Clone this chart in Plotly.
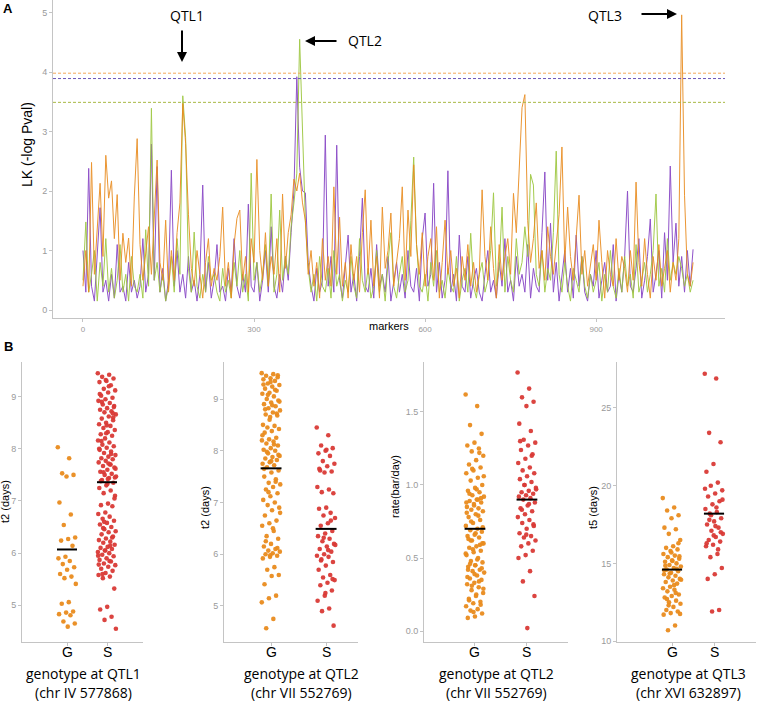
import plotly.graph_objects as go

W, H = 757, 705

# ---- panel A: LK scores along the markers (read every 5th marker) ----
LK_PURPLE = [
    1.0, 0.3, 2.38, 0.4, 0.15, 0.9, 1.72, 0.3, 0.5, 0.15,
    0.6, 0.2, 1.1, 0.3, 0.4, 0.15, 0.8, 0.3, 0.5, 0.2,
    0.4, 1.2, 0.3, 0.6, 2.79, 0.5, 2.41, 0.3, 0.7, 0.15,
    0.5, 2.35, 0.4, 1.0, 0.3, 0.6, 0.2, 0.9, 0.3, 0.5,
    0.15, 0.6, 2.1, 0.3, 0.8, 0.2, 0.5, 1.1, 0.3, 0.4,
    0.15, 0.7, 0.3, 1.2, 0.4, 0.2, 0.6, 0.3, 1.78, 0.4,
    0.3, 0.8, 0.15, 0.5, 1.0, 0.3, 1.4, 0.4, 0.2, 0.6,
    0.3, 0.9, 0.5, 1.3, 2.0, 3.92, 2.4, 2.0, 1.97, 0.8,
    0.4, 0.15, 0.7, 0.3, 0.5, 2.94, 0.4, 0.9, 0.3, 2.77,
    0.5, 0.2, 0.8, 1.26, 0.3, 0.6, 0.15, 0.9, 1.88, 0.4,
    0.3, 0.7, 0.2, 1.1, 0.4, 0.6, 0.3, 0.9, 0.15, 0.5,
    0.8, 0.3, 0.6, 0.2, 1.0, 0.4, 0.3, 0.7, 0.15, 1.2,
    1.63, 0.4, 0.6, 2.13, 0.3, 0.8, 0.2, 0.5, 2.34, 0.3,
    0.6, 0.15, 1.26, 0.4, 0.3, 0.9, 0.2, 0.5, 0.7, 0.3,
    0.15, 0.6, 1.0, 0.3, 0.5, 0.2, 0.8, 0.4, 1.2, 0.3,
    0.5, 0.15, 0.9, 0.4, 0.6, 0.3, 1.1, 0.2, 0.7, 0.4,
    0.3, 1.3, 2.32, 0.5, 1.46, 0.3, 0.8, 0.15, 0.6, 1.0,
    0.3, 0.7, 0.2, 1.26, 0.4, 0.9, 0.3, 0.15, 0.6, 0.4,
    1.0, 0.2, 0.5, 0.8, 0.3, 0.4, 1.1, 0.15, 0.6, 0.3,
    0.9, 2.0, 0.4, 0.3, 0.7, 1.2, 0.2, 0.5, 0.9, 1.53,
    0.3, 0.6, 1.0, 0.2, 1.3, 0.5, 2.42, 0.8, 1.46, 0.4,
    0.9, 0.3, 1.0, 0.4, 1.02,
]
LK_GREEN = [
    0.5, 1.48, 0.3, 0.6, 1.0, 0.15, 0.8, 0.4, 1.2, 0.3,
    0.7, 0.2, 0.5, 1.1, 0.3, 0.6, 0.15, 0.9, 0.4, 0.3,
    0.6, 0.2, 1.35, 0.4, 3.39, 0.5, 0.8, 0.3, 0.6, 0.15,
    0.4, 0.9, 0.3, 1.2, 0.6, 3.6, 2.9, 0.7, 0.3, 1.31,
    0.4, 0.2, 0.6, 0.3, 0.9, 0.5, 0.6, 0.3, 0.15, 0.7,
    0.3, 0.5, 0.2, 0.8, 0.4, 1.0, 0.3, 0.6, 0.15, 2.3,
    0.5, 0.8, 0.3, 0.6, 1.1, 0.4, 1.95, 0.3, 0.6, 1.68,
    0.5, 0.9, 0.6, 1.4, 1.8, 2.3, 4.55, 2.97, 1.5, 0.7,
    0.3, 0.6, 0.15, 0.9, 0.4, 0.3, 0.7, 0.2, 1.0, 0.4,
    0.6, 0.15, 0.5, 0.3, 0.9, 0.4, 0.2, 1.2, 0.5, 0.3,
    0.7, 0.2, 0.4, 1.0, 0.3, 0.6, 0.15, 0.8, 1.3, 0.4,
    0.2, 0.6, 0.9, 0.3, 0.5, 1.5, 2.57, 1.1, 0.4, 0.3,
    0.6, 0.15, 0.8, 0.4, 1.0, 0.3, 0.5, 0.2, 0.7, 0.4,
    0.3, 0.9, 0.15, 0.5, 0.7, 0.3, 1.29, 0.4, 0.2, 0.6,
    0.8, 0.3, 0.5, 1.0, 1.97, 0.4, 0.7, 1.73, 0.3, 0.9,
    0.5, 0.3, 1.2, 0.6, 0.8, 1.4, 0.9, 2.28, 2.1, 0.6,
    0.4, 1.0, 0.3, 0.7, 0.5, 1.3, 2.67, 0.6, 0.3, 0.8,
    0.4, 0.15, 0.7, 0.5, 0.3, 0.9, 0.4, 0.2, 0.6, 0.3,
    0.5, 0.8, 0.15, 0.6, 0.3, 1.0, 0.4, 0.2, 0.7, 0.3,
    0.9, 0.4, 0.6, 0.2, 1.1, 0.3, 0.5, 0.8, 0.3, 0.6,
    1.0, 1.95, 0.4, 0.7, 0.3, 1.2, 0.5, 0.8, 0.6, 0.9,
    0.7, 0.4, 0.6, 0.3, 0.5,
]
LK_ORANGE = [
    0.4, 1.0, 0.3, 2.48, 0.6, 1.3, 2.13, 0.9, 2.6, 1.88,
    2.17, 1.2, 1.94, 0.5, 1.29, 0.8, 1.21, 0.4, 1.9, 2.88,
    1.1, 0.5, 0.9, 1.4, 0.6, 1.7, 2.52, 0.8, 0.5, 1.51,
    0.3, 1.0, 0.5, 1.3, 1.8, 3.47, 2.8, 1.6, 0.7, 0.4,
    1.0, 0.6, 0.2, 0.8, 1.2, 0.4, 0.7, 0.5, 0.9, 1.73,
    0.4, 0.8, 0.2, 1.1, 1.54, 1.68, 0.5, 0.9, 0.3, 1.2,
    0.8, 2.53, 1.0, 0.5, 1.3, 0.4, 0.9, 0.6, 1.2, 0.3,
    1.95, 0.7, 1.3, 1.6, 2.2, 2.0, 2.3, 1.8, 1.5, 0.6,
    1.0, 0.4, 0.8, 0.2, 1.2, 0.5, 0.9, 0.4, 2.07, 0.6,
    1.56, 0.4, 0.8, 0.2, 1.1, 0.5, 0.9, 0.3, 1.3, 2.02,
    0.6, 1.51, 0.4, 0.9, 0.2, 1.73, 0.7, 1.0, 1.63, 0.4,
    0.8, 1.2, 2.07, 0.5, 1.68, 0.9, 2.44, 1.1, 0.6, 1.3,
    0.4, 0.9, 1.2, 0.5, 1.4, 0.2, 0.8, 1.51, 0.6, 1.0,
    0.4, 0.7, 0.2, 0.9, 0.5, 1.1, 0.4, 0.8, 0.3, 0.6,
    2.02, 0.9, 0.5, 1.4, 0.7, 0.2, 1.1, 0.5, 0.9, 1.2,
    0.6, 1.96, 1.3, 2.49, 3.4, 3.62, 1.5, 0.8, 1.2, 1.8,
    0.7, 1.0, 0.5, 1.4, 0.9, 0.6, 1.1, 1.6, 2.74, 0.8,
    1.73, 0.9, 0.5, 1.2, 1.93, 0.6, 1.0, 0.4, 0.8, 1.1,
    0.5, 1.51, 0.8, 0.2, 1.0, 0.6, 0.4, 1.2, 0.5, 0.9,
    0.7, 0.3, 1.0, 0.5, 2.15, 0.8, 0.4, 1.2, 0.6, 0.2,
    0.9, 0.5, 1.1, 0.4, 0.7, 1.0, 0.3, 0.8, 0.5, 1.2,
    4.96, 1.93, 0.6, 0.4, 0.8,
]
MARKER_STEP = 5
THRESHOLDS = [3.98, 3.89, 3.49]   # orange, purple, green

# ---- panel B: phenotypes by genotype ----
P1_G = [8.03, 7.82, 7.53, 7.5, 7.47, 6.97, 6.74, 6.54, 6.3, 6.27, 6.24, 6.14, 5.93, 5.9, 5.85, 5.79,
        5.73, 5.68, 5.6, 5.55, 5.52, 5.41, 5.06, 5.03, 4.88, 4.86, 4.83, 4.81, 4.69, 4.65, 4.59]
P1_S = [9.45, 9.42, 9.38, 9.35, 9.3, 9.28, 9.22, 9.15, 9.12, 9.08, 9.02, 8.98, 8.95, 8.92, 8.88, 8.85,
        8.82, 8.78, 8.75, 8.72, 8.7, 8.66, 8.62, 8.58, 8.55, 8.5, 8.47, 8.44, 8.4, 8.36, 8.32, 8.28,
        8.25, 8.2, 8.16, 8.12, 8.08, 8.05, 8.02, 7.98, 7.95, 7.92, 7.88, 7.85, 7.82, 7.8, 7.77, 7.74,
        7.7, 7.67, 7.64, 7.6, 7.56, 7.52, 7.5, 7.47, 7.44, 7.4, 7.35, 7.3, 7.25, 7.2, 7.15, 7.1, 6.95,
        6.92, 6.9, 6.78, 6.75, 6.7, 6.66, 6.62, 6.58, 6.55, 6.5, 6.46, 6.42, 6.4, 6.36, 6.32, 6.28,
        6.25, 6.22, 6.2, 6.16, 6.12, 6.1, 6.08, 6.05, 6.02, 6.0, 5.97, 5.94, 5.9, 5.87, 5.84, 5.8,
        5.77, 5.74, 5.7, 5.66, 5.62, 5.58, 5.55, 5.52, 5.32, 4.97, 4.92, 4.78, 4.72, 4.55,
        9.2, 8.9, 8.6, 8.3, 8.0, 7.7, 7.55, 7.45, 7.42, 7.38, 6.3, 6.05, 5.95, 5.85, 5.6, 8.8, 8.45,
        9.05, 7.9, 6.6, 7.62, 7.72, 8.15, 8.68, 9.32, 5.78, 6.14, 6.48, 7.05, 7.33]
P2_G = [9.5, 9.48, 9.45, 9.42, 9.4, 9.38, 9.35, 9.3, 9.27, 9.24, 9.2, 9.16, 9.12, 9.1, 9.05, 9.0,
        8.97, 8.93, 8.9, 8.86, 8.82, 8.78, 8.74, 8.7, 8.68, 8.65, 8.5, 8.48, 8.45, 8.42, 8.38, 8.35,
        8.25, 8.22, 8.2, 8.18, 8.14, 8.1, 8.05, 8.02, 8.0, 7.95, 7.9, 7.88, 7.85, 7.82, 7.78, 7.75,
        7.72, 7.68, 7.62, 7.58, 7.5, 7.45, 7.38, 7.35, 7.3, 7.25, 7.18, 7.12, 7.05, 7.0, 6.95, 6.9,
        6.85, 6.75, 6.65, 6.6, 6.55, 6.45, 6.35, 6.3, 6.2, 6.15, 6.1, 6.07, 6.05, 6.02, 6.0, 5.97,
        5.95, 5.92, 5.75, 5.7, 5.6, 5.58, 5.42, 5.2, 5.15, 5.07, 4.75, 4.57,
        9.46, 9.33, 9.28, 9.18, 9.08, 8.95, 8.88, 8.8, 8.72, 8.6, 8.3, 8.12, 7.98, 7.92, 7.8, 7.65,
        7.4, 7.2, 6.8, 6.5, 6.25, 6.12, 5.98]
P2_S = [8.45, 8.3, 8.1, 8.05, 8.0, 7.95, 7.9, 7.8, 7.75, 7.7, 7.62, 7.6, 7.58, 7.3, 7.25, 7.2, 7.18,
        6.9, 6.88, 6.8, 6.75, 6.7, 6.6, 6.55, 6.45, 6.4, 6.35, 6.3, 6.25, 6.2, 6.15, 6.1, 6.05, 6.0,
        5.97, 5.95, 5.9, 5.85, 5.78, 5.7, 5.6, 5.55, 5.5, 5.45, 5.4, 5.3, 5.2, 5.1, 4.95, 4.9, 4.62,
        8.02, 7.65, 6.65, 6.32, 6.18, 6.08, 5.88, 5.52, 5.25]
P3_G = [1.62, 1.54, 1.41, 1.35, 1.29, 1.27, 1.25, 1.23, 1.2, 1.17, 1.14, 1.12, 1.1, 1.08, 1.05, 1.03,
        1.0, 0.98, 0.96, 0.95, 0.93, 0.92, 0.9, 0.89, 0.88, 0.86, 0.85, 0.84, 0.83, 0.82, 0.8, 0.78,
        0.76, 0.74, 0.72, 0.7, 0.69, 0.68, 0.66, 0.65, 0.64, 0.62, 0.6, 0.58, 0.57, 0.55, 0.54, 0.52,
        0.5, 0.48, 0.47, 0.45, 0.44, 0.42, 0.41, 0.4, 0.38, 0.36, 0.35, 0.33, 0.32, 0.3, 0.28, 0.26,
        0.24, 0.22, 0.2, 0.19, 0.17, 0.15, 0.14, 0.12, 0.1, 0.09,
        1.22, 1.11, 1.06, 0.97, 0.94, 0.91, 0.87, 0.81, 0.79, 0.75, 0.71, 0.67, 0.63, 0.59, 0.56,
        0.53, 0.49, 0.46, 0.43, 0.39, 0.37, 0.34, 0.31, 0.29, 0.25, 0.21, 0.18, 0.13, 0.88, 0.9,
        0.62, 0.6, 0.45, 0.42]
P3_S = [1.77, 1.66, 1.6, 1.57, 1.54, 1.42, 1.37, 1.31, 1.29, 1.27, 1.24, 1.21, 1.18, 1.15, 1.12, 1.1,
        1.08, 1.06, 1.04, 1.02, 1.0, 0.98, 0.96, 0.95, 0.94, 0.93, 0.92, 0.91, 0.9, 0.88, 0.86, 0.84,
        0.82, 0.8, 0.78, 0.76, 0.74, 0.72, 0.7, 0.67, 0.65, 0.64, 0.62, 0.6, 0.58, 0.55, 0.52, 0.5,
        0.41, 0.34, 0.24, 0.02, 1.3, 1.2, 1.0, 0.97, 0.87, 0.83, 0.73, 0.66]
P4_G = [19.2, 18.6, 18.4, 18.1, 17.9, 17.3, 17.2, 16.9, 16.5, 16.1, 16.0, 15.9, 15.8, 15.6, 15.5, 15.4,
        15.3, 15.2, 15.1, 15.0, 14.9, 14.8, 14.7, 14.6, 14.5, 14.4, 14.3, 14.2, 14.1, 14.0, 13.9, 13.8,
        13.7, 13.5, 13.4, 13.3, 13.2, 13.0, 12.9, 12.8, 12.6, 12.5, 12.4, 12.2, 12.0, 11.9, 11.8, 11.7,
        11.0, 10.7, 15.45, 15.15, 14.85, 14.65, 14.35, 13.95, 13.6, 12.7, 16.3, 15.7, 14.55, 13.1,
        12.3, 11.75]
P4_S = [27.2, 26.9, 23.4, 22.8, 21.4, 20.9, 20.2, 20.0, 19.7, 19.5, 19.3, 19.0, 18.8, 18.5, 18.3, 18.2,
        17.9, 17.7, 17.5, 17.3, 17.1, 16.9, 16.7, 16.5, 16.4, 16.2, 16.1, 15.6, 15.4, 14.7, 14.3, 14.0,
        12.0, 11.9, 19.8, 18.6, 17.8, 17.0, 16.8, 16.3, 15.9, 18.1, 19.1, 17.4]
MEANS = [(6.07, 7.36), (7.66, 6.49), (0.70, 0.90), (14.6, 18.2)]
GENOTYPES = ["G", "S"]
Y_TITLES = ["t2 (days)", "t2 (days)", "rate(bar/day)", "t5 (days)"]
X_TITLES = [("genotype at QTL1", "(chr IV 577868)"), ("genotype at QTL2", "(chr VII 552769)"),
            ("genotype at QTL2", "(chr VII 552769)"), ("genotype at QTL3", "(chr XVI 632897)")]
PANELS = [(P1_G, P1_S), (P2_G, P2_S), (P3_G, P3_S), (P4_G, P4_S)]

PURPLE, GREEN, ORANGE, RED = "#8440c4", "#9bc63b", "#e98b1d", "#d93a36"
AXIS_GREY, TICK_GREY = "#c4c4c4", "#9a9a9a"


def px_x(x):
    return x / W


def px_y(y):
    return 1 - y / H


def note(text, x, y, size, family="Liberation Sans", angle=0, color="black"):
    return dict(text=text, x=px_x(x), y=px_y(y), xref="paper", yref="paper", showarrow=False,
                xanchor="center", yanchor="middle", textangle=angle,
                font=dict(size=size, family=family, color=color))


fig = go.Figure()

for vals, col in [(LK_PURPLE, PURPLE), (LK_GREEN, GREEN), (LK_ORANGE, ORANGE)]:
    fig.add_trace(go.Scatter(
        x=[MARKER_STEP * i for i in range(len(vals))], y=vals, mode="lines",
        line=dict(color=col, width=1), opacity=0.9, showlegend=False,
        xaxis="x", yaxis="y"))

for thr, col in zip(THRESHOLDS, ["#f2a75a", "#6a55b8", "#a8b944"]):
    fig.add_shape(type="line", xref="x domain", yref="y", x0=0, x1=1, y0=thr, y1=thr,
                  line=dict(color=col, width=1, dash="3px,2px"))

axis_common = dict(showgrid=False, zeroline=False, showline=True, linecolor=AXIS_GREY,
                   linewidth=1, ticks="outside", tickcolor=AXIS_GREY, ticklen=3,
                   automargin=False)

layout_axes = dict(
    xaxis=dict(domain=[px_x(53), px_x(725)], range=[-52.6, 1126], anchor="y",
               tickvals=[0, 300, 600, 900], tickfont=dict(size=8, color=TICK_GREY), **axis_common),
    yaxis=dict(domain=[px_y(318), 1], range=[-0.134, 5.21], anchor="x",
               tickvals=[0, 1, 2, 3, 4, 5], tickfont=dict(size=9, color=TICK_GREY), **axis_common),
)

# bottom panel geometry (pixels): axis left, axis right, x-range, y-range, y ticks
bx = [(22, 143, [-0.125, 2.9], [4.296, 9.665], [5, 6, 7, 8, 9], None),
      (224, 358, [0.145, 2.58], [4.304, 9.715], [5, 6, 7, 8, 9], None),
      (424, 568, [0.019, 2.79], [-0.075, 1.842], [0, 0.5, 1.0, 1.5], ["0.0", "0.5", "1.0", "1.5"]),
      (617, 756, [-0.31, 3.0], [9.94, 27.96], [10, 15, 20, 25], None)]
jit_half = [0.23, 0.17, 0.18, 0.22]
bar_half = [0.25, 0.19, 0.2, 0.24]
xtitle_cx = [83, 301, 496, 688]
ytitle_pos = [(5, 502), (205, 507), (395, 487), (593, 508)]

annotations = []
for k, (left, right, xr, yr, yt, ytt) in enumerate(bx):
    n = k + 2
    xa, ya = f"x{n}", f"y{n}"
    layout_axes[f"xaxis{n}"] = dict(domain=[px_x(left), px_x(right)], range=xr, anchor=ya,
                                    tickvals=[1, 2], showticklabels=False, **axis_common)
    layout_axes[f"yaxis{n}"] = dict(domain=[px_y(642), px_y(362)], range=yr, anchor=xa,
                                    tickvals=yt, ticktext=ytt if ytt else [str(v) for v in yt],
                                    tickfont=dict(size=9, color=TICK_GREY), **axis_common)
    ppu = (right - left) / (xr[1] - xr[0])
    for g, (vals, col) in enumerate(zip(PANELS[k], [ORANGE, RED])):
        # evenly spread horizontal jitter (deterministic)
        offs = [((i * 0.618034) % 1.0 * 2 - 1) * jit_half[k] for i in range(len(vals))]
        fig.add_trace(go.Scatter(x=[g + 1 + o for o in offs], y=vals, mode="markers",
                                 marker=dict(color=col, size=4.6, opacity=0.95),
                                 showlegend=False, xaxis=xa, yaxis=ya))
        m = MEANS[k][g]
        fig.add_trace(go.Scatter(x=[g + 1 - bar_half[k], g + 1 + bar_half[k]], y=[m, m],
                                 mode="lines", line=dict(color="black", width=2),
                                 showlegend=False, xaxis=xa, yaxis=ya))
        annotations.append(note(GENOTYPES[g], left + (g + 1 - xr[0]) * ppu, 652, 14))
    annotations.append(note(X_TITLES[k][0], xtitle_cx[k], 673, 14, "Open Sans"))
    annotations.append(note(X_TITLES[k][1], xtitle_cx[k], 692, 14, "Open Sans"))
    tx, ty = ytitle_pos[k]
    annotations.append(note(Y_TITLES[k], tx, ty, 11, angle=-90))

# panel labels, axis titles of A
annotations += [
    note("<b>A</b>", 8, 8, 13),
    note("<b>B</b>", 8, 347, 13),
    note("LK (-log Pval)", 27, 145, 14, angle=-90),
    note("markers", 389, 326, 11),
    note("QTL1", 187, 15, 14, "Open Sans"),
    note("QTL2", 365, 41, 14, "Open Sans"),
    note("QTL3", 605, 15, 14, "Open Sans"),
]

# arrows pointing at the QTL peaks
for hx, hy, ax, ay in [(182, 62, 0, -33), (305, 41, 33, 0), (677, 14, -37, 0)]:
    annotations.append(dict(x=px_x(hx), y=px_y(hy), xref="paper", yref="paper", text="",
                            showarrow=True, ax=ax, ay=ay, arrowhead=2, arrowsize=1,
                            arrowwidth=2, arrowcolor="black"))

fig.update_layout(
    width=W, height=H, margin=dict(l=0, r=0, t=0, b=0),
    paper_bgcolor="white", plot_bgcolor="white",
    font=dict(family="Liberation Sans", color="black"),
    annotations=annotations, showlegend=False, hovermode=False,
    **layout_axes,
)

# drop the browser's default 8px page margin so the figure sits at the window's corner
fig.write_html("out.html", config={"displayModeBar": False},
               post_script="document.body.style.margin='0';document.body.style.overflow='hidden';")
